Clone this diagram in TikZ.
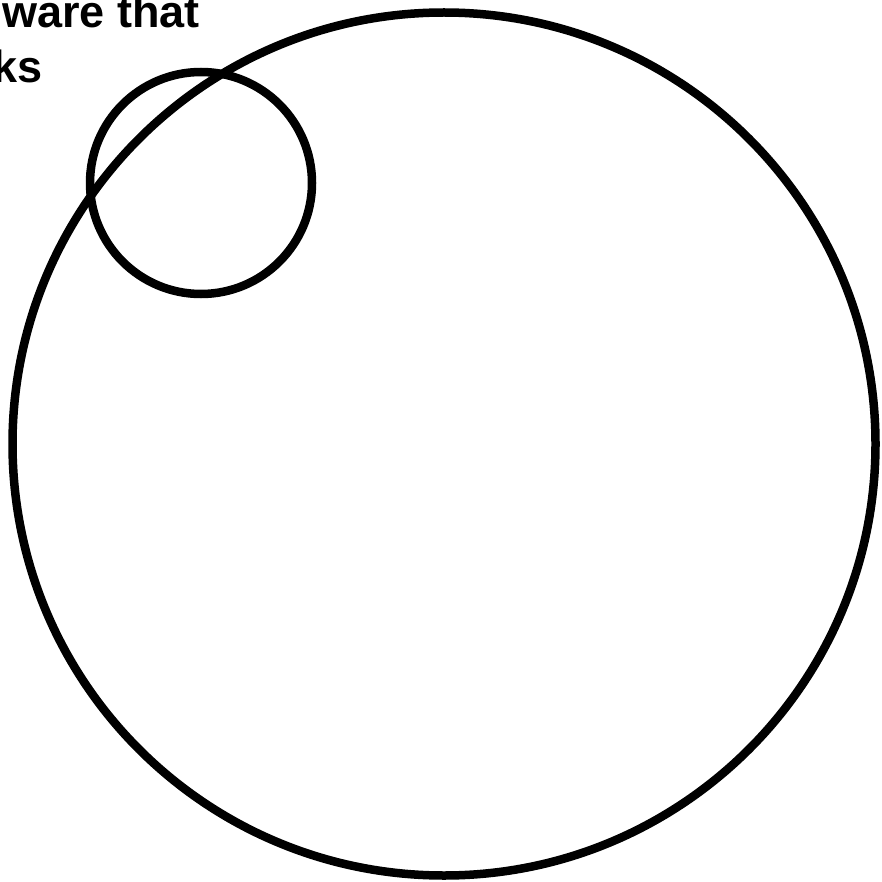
\documentclass[tikz,border=0pt]{standalone}
\usepackage{fontspec}
\setmainfont{Liberation Sans}
\begin{document}
\begin{tikzpicture}[x=1pt, y=-1pt, line width=8.5pt,
  caption/.style={anchor=base west, inner sep=0pt, font=\fontsize{45}{55}\selectfont\bfseries}]
% Fix the page size and clip what runs over the edge
\useasboundingbox (0,0) rectangle (881,882);
\clip (0,0) rectangle (881,882);
% Draw the two lines of clipped text
\node[caption] (line1) at (-2,28) {ware that};
\node[caption] (line2) at (-12,83) {ks};
% Draw the large circle
\draw[black] (444,444) circle (431.5);
% Draw the small circle overlapping its upper left rim
\draw[black] (201,183) circle (111);
\end{tikzpicture}
\end{document}
